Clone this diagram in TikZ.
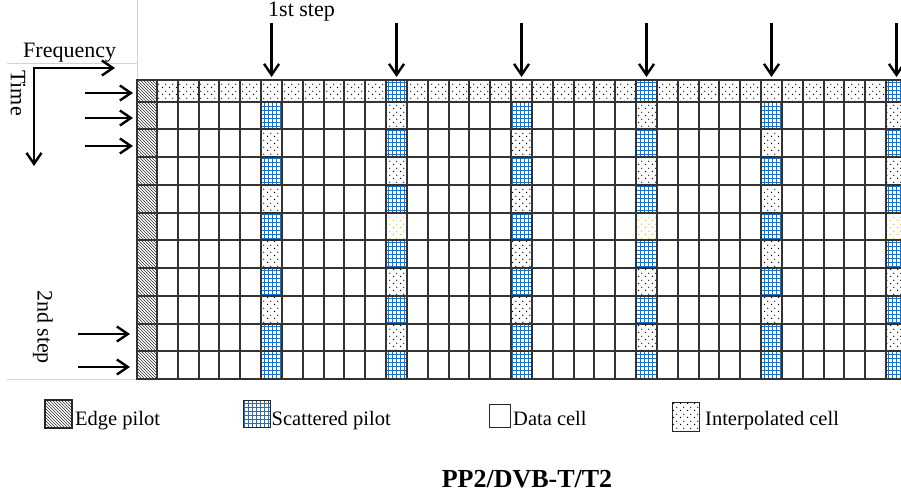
\documentclass[tikz,border=0pt]{standalone}
\usepackage{fontspec}
\setmainfont{Liberation Serif}
\usetikzlibrary{arrows.meta,patterns}

\definecolor{pilotblue}{RGB}{20,115,205}
\definecolor{boostyellow}{RGB}{255,180,0}
\definecolor{tablegray}{RGB}{210,210,210}

\def\cw{20.83}
\def\rh{27.75}

% blue pilot grid
\pgfdeclarepatternformonly{pilot grid}{\pgfpoint{-1pt}{-1pt}}{\pgfpoint{5pt}{5pt}}{\pgfpoint{4pt}{4pt}}{%
  \pgfsetlinewidth{1pt}%
  \pgfpathmoveto{\pgfpoint{0pt}{0pt}}\pgfpathlineto{\pgfpoint{4.1pt}{0pt}}%
  \pgfpathmoveto{\pgfpoint{0pt}{0pt}}\pgfpathlineto{\pgfpoint{0pt}{4.1pt}}%
  \pgfusepath{stroke}}
% sparse staggered dots
\pgfdeclarepatternformonly{sparse dots}{\pgfpointorigin}{\pgfpoint{7pt}{7pt}}{\pgfpoint{7pt}{7pt}}{%
  \pgfpathcircle{\pgfpoint{1.75pt}{1.75pt}}{0.75pt}%
  \pgfpathcircle{\pgfpoint{5.25pt}{5.25pt}}{0.75pt}%
  \pgfusepath{fill}}
% edge hatching
\pgfdeclarepatternformonly{edge hatch}{\pgfpoint{-1pt}{-1pt}}{\pgfpoint{4pt}{4pt}}{\pgfpoint{3pt}{3pt}}{%
  \pgfsetlinewidth{0.6pt}%
  \pgfpathmoveto{\pgfpoint{0pt}{3pt}}\pgfpathlineto{\pgfpoint{3.1pt}{-0.1pt}}%
  \pgfusepath{stroke}}

\tikzset{
  gridline/.style={line width=1.6pt, draw=black!80, line cap=rect},
  tableline/.style={line width=0.8pt, draw=tablegray},
  edgecell/.style={pattern=edge hatch, pattern color=black!80},
  pilotcell/.style={pattern=pilot grid, pattern color=pilotblue},
  interpcell/.style={pattern=sparse dots, pattern color=black},
  boostcell/.style={pattern=sparse dots, pattern color=boostyellow},
  steparrow/.style={line width=2.4pt, -{Straight Barb[length=11pt,width=15pt]}},
  labeltext/.style={inner sep=0pt, font=\fontsize{22}{26}\selectfont},
  legtext/.style={inner sep=0pt, anchor=base west, font=\fontsize{20.5}{24}\selectfont},
  legbox/.style={draw=black!85, line width=1.2pt, inner sep=0pt},
}

\begin{document}
\begin{tikzpicture}[x=1pt,y=-1pt]
\useasboundingbox (0,0) rectangle (901,495);

% faint table borders
\draw[tableline] (7,63) -- (137,63);
\draw[tableline] (137,0) -- (137,80);
\draw[tableline] (7,379) -- (137,379);

% axes
\coordinate (origin) at (34,68);
\coordinate (freqend) at (115,68);
\coordinate (timeend) at (34,166);
\draw[line width=2.4pt, {Straight Barb[length=11pt,width=15pt]}-{Straight Barb[length=11pt,width=15pt]}]
  (freqend) -- (origin) -- (timeend);
\node[labeltext, anchor=base west] (freq) at (23,57) {Frequency};
\node[labeltext, rotate=-90] (time) at (18,93) {Time};

% grid of cells
\begin{scope}
\clip (130,70) rectangle (901,385);
\foreach \k in {1,...,36}
  \fill[interpcell] ({157+(\k-1)*\cw},80) rectangle ++(\cw,21.5);
\fill[edgecell] (137,80) rectangle (157,379);
\foreach \c in {6,18,30}{
  \pgfmathsetmacro\xl{157+(\c-1)*\cw}
  \foreach \r in {1,3,5,7,9,10}
    \fill[pilotcell] (\xl,{101.5+(\r-1)*\rh}) rectangle ++(\cw,\rh);
  \foreach \r in {2,4,6,8}
    \fill[interpcell] (\xl,{101.5+(\r-1)*\rh}) rectangle ++(\cw,\rh);
}
\foreach \c in {12,24,36}{
  \pgfmathsetmacro\xl{157+(\c-1)*\cw}
  \fill[white] (\xl,80) rectangle ++(\cw,21.5);
  \fill[pilotcell] (\xl,80) rectangle ++(\cw,21.5);
  \foreach \r in {2,4,6,8,10}
    \fill[pilotcell] (\xl,{101.5+(\r-1)*\rh}) rectangle ++(\cw,\rh);
  \foreach \r in {1,3,7,9}
    \fill[interpcell] (\xl,{101.5+(\r-1)*\rh}) rectangle ++(\cw,\rh);
  \fill[boostcell] (\xl,{101.5+4*\rh}) rectangle ++(\cw,\rh);
}
\foreach \k in {0,...,36}
  \draw[gridline] ({157+round(\k*\cw)},80) -- ({157+round(\k*\cw)},379);
\draw[gridline] (137,80) -- (137,379);
\draw[gridline] (137,80) -- (901,80);
\foreach \r in {0,...,10}
  \draw[gridline] (137,{round(101.5+\r*\rh)}) -- (901,{round(101.5+\r*\rh)});
\end{scope}

% first step arrows
\node[labeltext, anchor=base west] (firststep) at (268,17) {1st step};
\foreach \c [count=\i] in {6,12,18,24,30,36}{
  \coordinate (fs\i) at ({157+(\c-0.5)*\cw},23);
  \coordinate (ft\i) at ({157+(\c-0.5)*\cw},77);
  \draw[steparrow] (fs\i) -- (ft\i);
}

% second step arrows
\node[labeltext, rotate=-90] (secondstep) at (43,327) {2nd step};
\foreach \y [count=\i] in {93,118,146}{
  \coordinate (ss\i) at (85,\y);
  \coordinate (st\i) at (133,\y);
  \draw[steparrow] (ss\i) -- (st\i);
}
\foreach \y [count=\i] in {334,367}{
  \coordinate (sb\i) at (78,\y);
  \coordinate (tb\i) at (130,\y);
  \draw[steparrow] (sb\i) -- (tb\i);
}

% legend
\node[legbox, edgecell, minimum width=27pt, minimum height=28pt] (edgekey) at (58.5,414) {};
\node[legtext] (edgetext) at (75,425) {Edge pilot};
\node[legbox, pilotcell, minimum width=27pt, minimum height=27pt] (pilotkey) at (256.7,414.3) {};
\node[legtext] (pilottext) at (271.5,425) {Scattered pilot};
\node[legbox, minimum width=21pt, minimum height=23pt] (datakey) at (500.3,416.3) {};
\node[legtext] (datatext) at (513,425) {Data cell};
\node[legbox, interpcell, minimum width=27pt, minimum height=29pt] (interpkey) at (686,417) {};
\node[legtext] (interptext) at (705,425) {Interpolated cell};

\node[inner sep=0pt, anchor=base, font=\bfseries\fontsize{26}{30}\selectfont] (title) at (527,487) {PP2/DVB-T/T2};
\end{tikzpicture}
\end{document}
